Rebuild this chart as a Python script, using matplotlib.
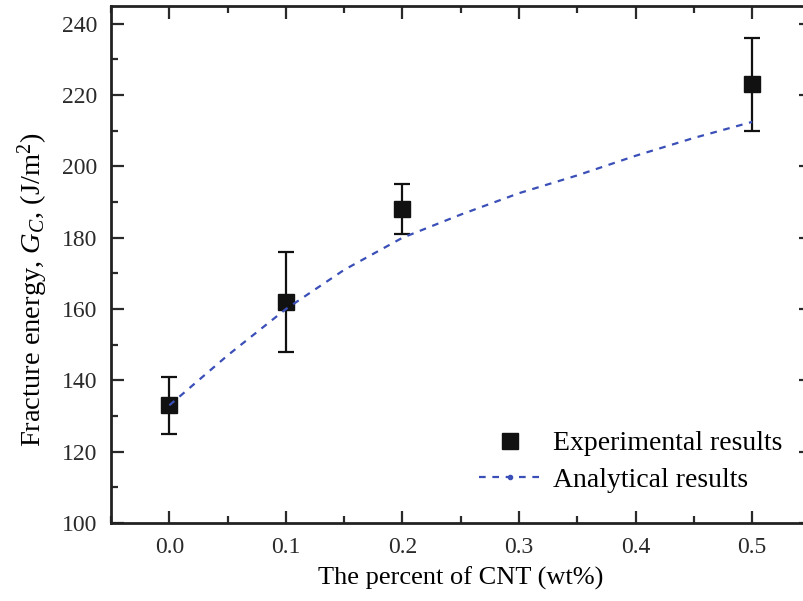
import matplotlib

matplotlib.use("Agg")
import matplotlib.pyplot as plt
from matplotlib.lines import Line2D
from matplotlib.ticker import MultipleLocator

# ---- data ----------------------------------------------------------------- #
cnt_exp = [0.0, 0.1, 0.2, 0.5]
gc_exp = [133, 162, 188, 223]
gc_err = [8, 14, 7, 13]

cnt_ana = [0.0, 0.05, 0.1, 0.15, 0.2, 0.25, 0.3, 0.35, 0.4, 0.45, 0.5]
gc_ana = [133, 147, 160, 171, 180, 186.5, 192.5, 197.5, 203, 208, 212.5]

plt.rcParams["font.family"] = ["Liberation Serif", "DejaVu Serif"]
plt.rcParams["mathtext.fontset"] = "custom"
plt.rcParams["mathtext.it"] = "Liberation Serif:italic"
plt.rcParams["mathtext.rm"] = "Liberation Serif"

fig = plt.figure(figsize=(8.04, 6.01), dpi=100)
ax = fig.add_axes([111 / 804, 78 / 601, 699.5 / 804, 517 / 601])

ax.errorbar(cnt_exp, gc_exp, yerr=gc_err, fmt="s", color="#111111",
            ms=11, elinewidth=1.6, capsize=6, capthick=1.6, zorder=3)
ax.plot(cnt_ana, gc_ana, ls=(0, (3, 3)), color="#3a4fb8", lw=1.6, zorder=4)

ax.set_xlim(-0.05, 0.55)
ax.set_ylim(100, 245)
ax.xaxis.set_major_locator(MultipleLocator(0.1))
ax.xaxis.set_minor_locator(MultipleLocator(0.05))
ax.yaxis.set_major_locator(MultipleLocator(20))
ax.yaxis.set_minor_locator(MultipleLocator(10))
ax.set_xticks([0.0, 0.1, 0.2, 0.3, 0.4, 0.5])
ax.set_xticklabels(["0.0", "0.1", "0.2", "0.3", "0.4", "0.5"])

ax.tick_params(which="both", direction="in", top=True, right=True,
               labelsize=17, width=1.6, colors="#2a2a2a", pad=10)
ax.tick_params(which="major", length=9)
ax.tick_params(which="minor", length=5)
for s in ax.spines.values():
    s.set_linewidth(2)
    s.set_color("#222222")

ax.set_xlabel("The percent of CNT (wt%)", fontsize=19, labelpad=6)
ax.set_ylabel(r"Fracture energy, $G_C$, (J/m$^2$)", fontsize=20.5, labelpad=8)
ax.yaxis.label.set_y(0.45)

h_exp = Line2D([], [], ls="none", marker="s", ms=11, color="#111111")
h_ana = Line2D([], [], ls=(0, (3, 3)), lw=1.6, color="#3a4fb8",
               marker="o", ms=3, markevery=[1])
ax.legend([h_exp, h_ana], ["Experimental results", "Analytical results"],
          loc="lower right", bbox_to_anchor=(0.995, 0.01), frameon=False,
          fontsize=20, handlelength=2.2, handletextpad=0.45, labelspacing=0.4)

fig.savefig("out.png", dpi=100)
